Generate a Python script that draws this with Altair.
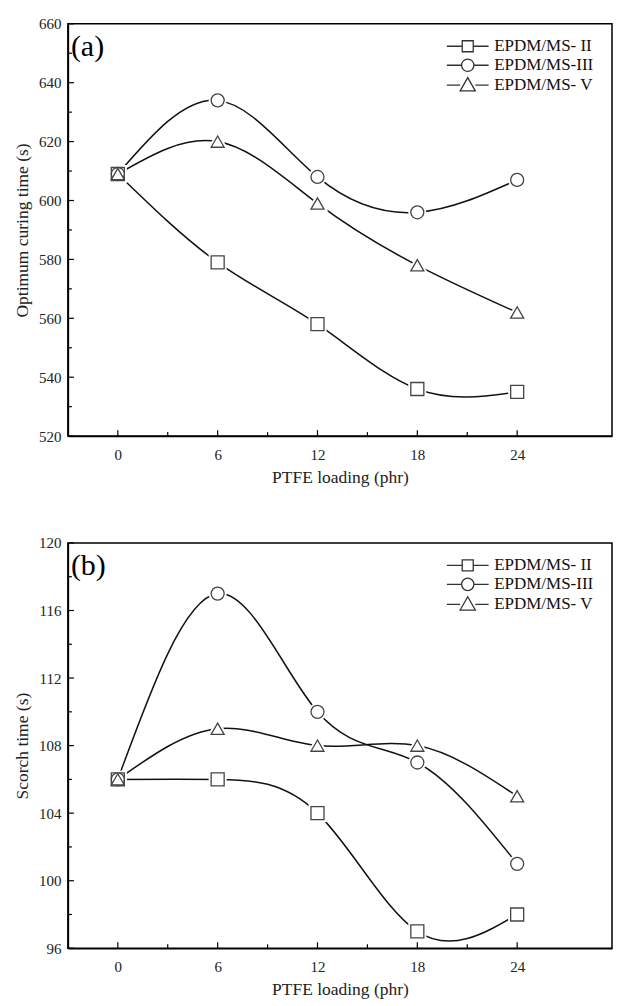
import altair as alt
import pandas as pd

loading = [0, 6, 12, 18, 24]
series_names = ["EPDM/MS- II", "EPDM/MS-III", "EPDM/MS- V"]

cure_II = [609, 579, 558, 536, 535]
cure_III = [609, 634, 608, 596, 607]
cure_V = [609, 620, 599, 578, 562]

scorch_II = [106, 106, 104, 97, 98]
scorch_III = [106, 117, 110, 107, 101]
scorch_V = [106, 109, 108, 108, 105]

x_major = [0, 6, 12, 18, 24]
x_minor = [3, 9, 15, 21]
ya_major = [520, 540, 560, 580, 600, 620, 640, 660]
ya_minor = [530, 550, 570, 590, 610, 630, 650]
yb_major = [96, 100, 104, 108, 112, 116, 120]
yb_minor = [98, 102, 106, 110, 114, 118]

FONT = "Liberation Serif"
W = 545

legend_paths = [
    "M-2.2,0H-0.58M0.58,0H2.2M-0.58,-0.58H0.58V0.58H-0.58Z",
    "M-2.2,0H-0.65M0.65,0H2.2M-0.65,0A0.65,0.65 0 1,0 0.65,0A0.65,0.65 0 1,0 -0.65,0Z",
    "M-2.2,0H-0.8M0.8,0H2.2M-0.8,0.6L0.8,0.6L0,-0.8Z",
]


def long_df(vals):
    rows = []
    for name, arr in zip(series_names, vals):
        for x, v in zip(loading, arr):
            rows.append({"x": x, "y": v, "series": name})
    return pd.DataFrame(rows)


def panel(vals, ydom, ymaj, ymin, ytitle, tag, H):
    df = long_df(vals)
    xs = alt.Scale(domain=[-3, 29.7], nice=False, zero=False)
    ys = alt.Scale(domain=ydom, nice=False, zero=False)
    X = alt.X("x:Q", scale=xs, title="PTFE loading (phr)",
              axis=alt.Axis(values=x_major, ticks=False, grid=False, labelPadding=11,
                            titlePadding=6))
    Y = alt.Y("y:Q", scale=ys, title=ytitle,
              axis=alt.Axis(values=ymaj, ticks=False, grid=False, labelPadding=7,
                            titlePadding=7))
    base = alt.Chart(df)
    lines = base.mark_line(interpolate="natural", color="#111", strokeWidth=1.5).encode(
        x=X, y=Y, detail="series:N")
    shape_enc = alt.Shape("series:N", scale=alt.Scale(domain=series_names,
                          range=["square", "circle", "triangle-up"]), legend=None)
    halo = base.mark_point(filled=True, fill="white", stroke="white", strokeWidth=5,
                           opacity=1, size=170).encode(x=X, y=Y, shape=shape_enc)
    pts = base.mark_point(filled=False, stroke="#444", strokeWidth=1.3, fill="white",
                          fillOpacity=1, opacity=1, size=170).encode(x=X, y=Y, shape=shape_enc)
    leg = base.transform_filter("false").mark_point(filled=False, color="#333").encode(
        x=X, y=Y,
        shape=alt.Shape("series:N", scale=alt.Scale(domain=series_names, range=legend_paths),
                        legend=alt.Legend(title=None, orient="none", legendX=390, legendY=12,
                                          symbolSize=361, symbolFillColor="white",
                                          symbolStrokeColor="#333", symbolStrokeWidth=1.3,
                                          symbolOpacity=1, labelFont=FONT, labelFontSize=17,
                                          labelColor="#111", rowPadding=0, labelOffset=16,
                                          padding=0)))
    tick_major_y = alt.Chart(pd.DataFrame({"v": ymaj})).mark_rule(color="black", strokeWidth=1.2).encode(
        y=alt.Y("v:Q", scale=ys), x=alt.value(0), x2=alt.value(6))
    tick_minor_y = alt.Chart(pd.DataFrame({"v": ymin})).mark_rule(color="black", strokeWidth=1.2).encode(
        y=alt.Y("v:Q", scale=ys), x=alt.value(0), x2=alt.value(4))
    tick_major_x = alt.Chart(pd.DataFrame({"v": x_major})).mark_rule(color="black", strokeWidth=1.2).encode(
        x=alt.X("v:Q", scale=xs), y=alt.value(H), y2=alt.value(H - 6))
    tick_minor_x = alt.Chart(pd.DataFrame({"v": x_minor})).mark_rule(color="black", strokeWidth=1.2).encode(
        x=alt.X("v:Q", scale=xs), y=alt.value(H), y2=alt.value(H - 4))
    label = alt.Chart(pd.DataFrame({"t": [tag]})).mark_text(
        font=FONT, fontSize=30, align="left", baseline="middle", color="black").encode(
        text="t:N", x=alt.value(3), y=alt.value(23))
    return alt.layer(lines, halo, pts, leg, tick_major_y, tick_minor_y, tick_major_x,
                     tick_minor_x, label).resolve_scale(shape="independent").properties(
        width=W, height=H)


pa = panel([cure_II, cure_III, cure_V], [520, 660], ya_major, ya_minor,
           "Optimum curing time (s)", "(a)", 413)
pb = panel([scorch_II, scorch_III, scorch_V], [96, 120], yb_major, yb_minor,
           "Scorch time (s)", "(b)", 406)

chart = alt.vconcat(pa, pb, spacing=48).resolve_legend(shape="independent").properties(
    padding={"left": 4, "top": 7, "right": 0, "bottom": 5},
    background="white").configure_view(
    stroke="black", strokeWidth=1.5).configure_axis(
    domainColor="black", domainWidth=1.5, labelFont=FONT, labelFontSize=15,
    labelColor="#222", titleFont=FONT, titleFontSize=17.5, titleFontWeight="normal",
    titleColor="#222")

chart.save("out.html", embed_options={"renderer": "svg", "actions": False})
